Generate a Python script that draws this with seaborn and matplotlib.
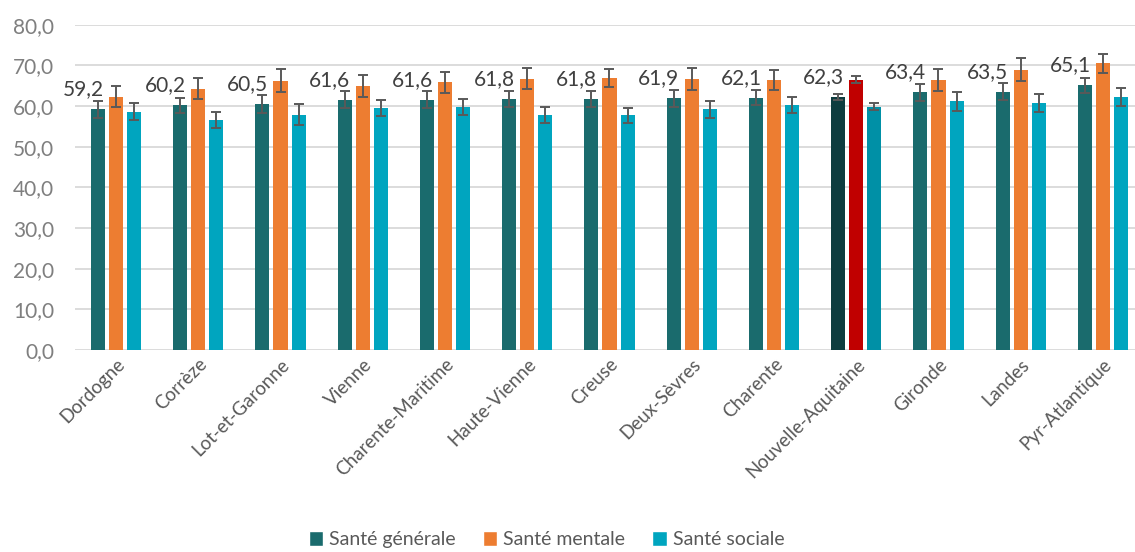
import matplotlib
matplotlib.use("Agg")
import matplotlib.pyplot as plt
import pandas as pd
import seaborn as sns
from matplotlib.patches import Patch
from matplotlib.ticker import FuncFormatter

territoires = [
    "Dordogne", "Corrèze", "Lot-et-Garonne", "Vienne", "Charente-Maritime",
    "Haute-Vienne", "Creuse", "Deux-Sèvres", "Charente", "Nouvelle-Aquitaine",
    "Gironde", "Landes", "Pyr-Atlantique",
]
dimensions = ["Santé générale", "Santé mentale", "Santé sociale"]

sante_generale = [59.2, 60.2, 60.5, 61.6, 61.6, 61.8, 61.8, 61.9, 62.1, 62.3, 63.4, 63.5, 65.1]
sante_mentale = [62.3, 64.3, 66.3, 64.9, 65.9, 66.7, 66.9, 66.7, 66.4, 66.5, 66.5, 69.0, 70.5]
sante_sociale = [58.6, 56.6, 57.9, 59.6, 59.8, 57.9, 57.7, 59.2, 60.2, 59.9, 61.2, 60.7, 62.2]

# demi-largeur des intervalles de confiance
ic_generale = [2.0, 1.8, 2.3, 2.0, 2.0, 1.9, 1.9, 2.0, 1.9, 0.7, 2.1, 2.1, 1.9]
ic_mentale = [2.6, 2.6, 2.9, 2.7, 2.6, 2.6, 2.3, 2.7, 2.5, 0.9, 2.7, 2.8, 2.4]
ic_sociale = [2.1, 2.0, 2.6, 2.0, 2.0, 2.0, 1.9, 2.0, 2.0, 0.8, 2.3, 2.2, 2.2]

couleurs = ["#1A6B6D", "#ED7D31", "#00A5BF"]
couleurs_region = ["#0E3D3F", "#C00000", "#0090A6"]
region = "Nouvelle-Aquitaine"

df = pd.DataFrame({
    "territoire": territoires * 3,
    "dimension": [d for d in dimensions for _ in territoires],
    "score": sante_generale + sante_mentale + sante_sociale,
})
ics = [ic_generale, ic_mentale, ic_sociale]
valeurs = [sante_generale, sante_mentale, sante_sociale]

sns.set_style("white")
plt.rcParams["font.family"] = ["Lato", "DejaVu Sans"]

fig = plt.figure(figsize=(11.35, 5.52), dpi=100)
# le cadre dépasse à droite, comme dans l'original (graphique rogné)
ax = fig.add_axes([0.066, 0.366, 0.942, 0.589])

sns.barplot(
    data=df, x="territoire", y="score", hue="dimension",
    order=territoires, hue_order=dimensions, palette=couleurs, saturation=1,
    width=0.66, gap=0.22, errorbar=None, linewidth=0, legend=False, ax=ax,
)

# barres triées de gauche à droite : 3 par territoire
barres = sorted(ax.patches, key=lambda p: p.get_x())
n = len(territoires)
idx_region = territoires.index(region)
for k in range(3):
    serie = [barres[3 * i + k] for i in range(n)]
    serie[idx_region].set_facecolor(couleurs_region[k])
    xs = [p.get_x() + p.get_width() / 2 for p in serie]
    ax.errorbar(xs, valeurs[k], yerr=ics[k], fmt="none", ecolor="#595959",
                elinewidth=1.4, capsize=3.5, capthick=1.4, zorder=5)
    if k == 0:
        for p, v in zip(serie, valeurs[k]):
            ax.annotate(f"{v:.1f}".replace(".", ","), xy=(p.get_x() + p.get_width(), v),
                        xytext=(-1, 10), textcoords="offset points",
                        ha="right", va="baseline", fontsize=15, color="#404040")

ax.set_ylim(0, 80)
ax.set_xlim(-0.5, n - 0.5)
ax.set_yticks(range(0, 81, 10))
ax.yaxis.set_major_formatter(FuncFormatter(lambda v, _: f"{v:.1f}".replace(".", ",")))
ax.grid(axis="y", color="#D9D9D9", linewidth=1.3)
ax.set_axisbelow(True)
sns.despine(ax=ax, left=True, bottom=True)
ax.tick_params(axis="y", length=0, labelsize=15, labelcolor="#7F7F7F", pad=15)
ax.tick_params(axis="x", length=0, labelsize=13.5, labelcolor="#595959", pad=4)
plt.setp(ax.get_xticklabels(), rotation=45, ha="right", rotation_mode="anchor")
ax.set_xlabel("")
ax.set_ylabel("")

handles = [Patch(facecolor=c) for c in couleurs]
fig.legend(handles, dimensions, loc="lower center", bbox_to_anchor=(0.4815, -0.025),
           ncol=3, frameon=False, fontsize=14, labelcolor="#595959",
           handlelength=0.75, handleheight=0.75, handletextpad=0.3, columnspacing=1.4)

fig.savefig("out.png", dpi=100)
